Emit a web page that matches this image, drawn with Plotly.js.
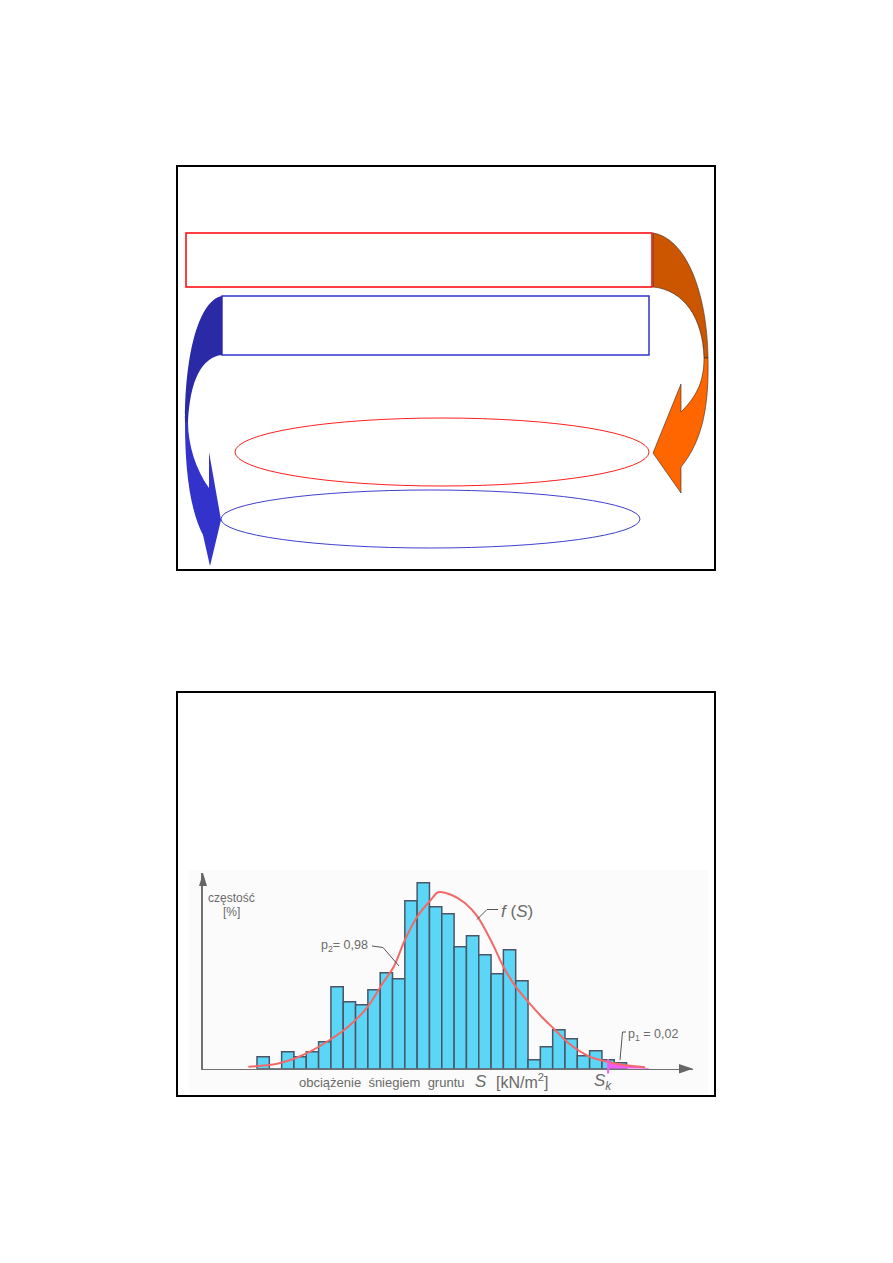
<!DOCTYPE html>
<html><head><meta charset="utf-8">
<script src="https://cdn.plot.ly/plotly-3.0.1.min.js"></script>
<style>html,body{margin:0;padding:0;background:#fff}#chart{width:893px;height:1263px}</style>
</head><body><div id="chart"></div>
<script>
// ---- data (histogram of ground snow load) ----
const binCenters = [0.6,0.7,0.8,0.9,1.0,1.1,1.2,1.3,1.4,1.5,1.6,1.7,1.8,1.9,2.0,2.1,2.2,2.3,2.4,2.5,2.6,2.7,2.8,2.9,3.0,3.1,3.2,3.3,3.4,3.5];
const frequency  = [1.2,0,1.7,1.2,1.7,2.7,8.2,6.7,6.4,7.9,9.6,9.0,16.8,18.6,16.2,15.5,12.2,13.3,11.4,9.5,11.9,8.8,0.9,2.2,3.9,3.0,1.3,1.8,0.9,0.6];
const curveS = [0.48,0.65,0.73,0.86,0.98,1.14,1.29,1.45,1.57,1.66,1.75,1.85,1.96,2.02,2.13,2.24,2.34,2.46,2.55,2.65,2.75,2.86,2.97,3.08,3.25,3.39,3.53,3.70];
const curveF = [0.20,0.37,0.54,1.04,1.70,2.87,4.20,6.20,8.54,10.20,12.87,15.20,16.87,17.64,17.37,16.54,15.20,12.54,10.20,8.20,6.70,5.20,3.87,2.54,1.20,0.70,0.37,0.14];
const tailS = [3.40,3.46,3.53,3.61,3.70,3.73];
const tailF = [0.72,0.52,0.37,0.24,0.12,0.0];
const skValue = 3.40;
const yLabel1 = 'częstość';
const yLabel2 = '[%]';
const xLabelWords = 'obciążenie&nbsp; śniegiem&nbsp; gruntu';
const xLabelSym = 'S';
const xLabelUnit = '[kN/m<sup>2</sup>]';
const p2Label = 'p<sub>2</sub>= 0,98';
const p1Label = 'p<sub>1</sub> = 0,02';
const fLabel = '<i>f</i> (<i>S</i>)';
const skLabel = '<i>S<sub>k</sub></i>';

const FONT = 'Liberation Sans, Arial, sans-serif';
const GRAY = '#6a6a6a';

const traces = [
  {type:'bar', x:binCenters, y:frequency, width:0.1, xaxis:'x2', yaxis:'y2',
   marker:{color:'#5CD6F7', line:{color:'#4A5566', width:1.5}}, hoverinfo:'skip'},
  {type:'scatter', mode:'lines', x:tailS, y:tailF, xaxis:'x2', yaxis:'y2',
   fill:'tozeroy', fillcolor:'#F25CF2', line:{color:'#F25CF2', width:1}, hoverinfo:'skip'},
  {type:'scatter', mode:'lines', x:curveS, y:curveF, xaxis:'x2', yaxis:'y2',
   line:{color:'#F46868', width:2, shape:'spline', smoothing:0.8}, hoverinfo:'skip'}
];

const pg = {xref:'x', yref:'y'};
const shapes = [
  // slide frames
  Object.assign({type:'rect', x0:177, y0:166, x1:715, y1:570, line:{color:'#000', width:2}, layer:'below'}, pg),
  Object.assign({type:'rect', x0:177, y0:692, x1:715, y1:1096, line:{color:'#000', width:2}, layer:'below'}, pg),
  // histogram picture background
  Object.assign({type:'rect', x0:189, y0:870, x1:708, y1:1094, fillcolor:'#FBFBFB', line:{width:0}, layer:'below'}, pg),
  // top diagram
  Object.assign({type:'circle', x0:235, y0:418, x1:649, y1:486, line:{color:'#FF2020', width:1}}, pg),
  Object.assign({type:'circle', x0:221, y0:490, x1:640, y1:548, line:{color:'#4040CC', width:1}}, pg),
  Object.assign({type:'rect', x0:186, y0:233, x1:652, y1:287, line:{color:'#FF0000', width:1.5}}, pg),
  Object.assign({type:'rect', x0:222, y0:296, x1:649, y1:355, line:{color:'#3333CC', width:1.5}}, pg),
  // orange arrow (back part)
  Object.assign({type:'path', path:'M 653,233 C 685,238 707,290 708,358 L 704,358 C 703,318 684,290 653,287 Z',
    fillcolor:'#CC5500', line:{color:'#3a2a20', width:0.6}}, pg),
  // orange arrow (front part with head)
  Object.assign({type:'path', path:'M 708,358 C 709,405 703,440 681,467 L 681,493 L 653,453 L 681,384 L 681,412 C 698,395 704,380 704,358 Z',
    fillcolor:'#FF6600', line:{color:'#3a2a20', width:0.6}}, pg),
  // blue arrow (back part)
  Object.assign({type:'path', path:'M 222,296 C 200,300 185,350 185,422 L 188,422 C 190,380 202,357 222,355 Z',
    fillcolor:'#2A2AA6', line:{width:0}}, pg),
  // blue arrow (front part with head)
  Object.assign({type:'path', path:'M 185,422 C 185,470 190,510 203,535 L 210,566 L 221,520 L 209,452 L 209,488 C 196,470 188,445 188,422 Z',
    fillcolor:'#3333CC', line:{width:0}}, pg),
  // histogram axis arrowheads
  Object.assign({type:'path', path:'M 203,873 L 199,886 L 207,886 Z', fillcolor:'#666', line:{width:0}}, pg),
  Object.assign({type:'path', path:'M 693,1068.7 L 679,1064 L 679,1073.4 Z', fillcolor:'#666', line:{width:0}}, pg),
  // leader lines
  Object.assign({type:'path', path:'M 372,946 L 383,947.5 L 399,966', line:{color:'#555', width:1}}, pg),
  Object.assign({type:'path', path:'M 498,909.5 L 487,909.5 L 477,919.5', line:{color:'#555', width:1}}, pg),
  Object.assign({type:'path', path:'M 626,1032 L 622.5,1032 L 620,1060', line:{color:'#555', width:1}}, pg),
  // S_k marker
  {type:'line', xref:'x2', yref:'paper', x0:skValue, x1:skValue, y0:(1263-1073.5)/1263, y1:(1263-1059)/1263,
   line:{color:'#F25CF2', width:2}}
];

function ann(text, x, y, size, extra){
  return Object.assign({text:text, x:x, y:y, xref:'x', yref:'y', showarrow:false,
    xanchor:'center', yanchor:'middle', font:{family:FONT, size:size, color:GRAY}}, extra||{});
}
const annotations = [
  ann(yLabel1, 231, 898, 12),
  ann(yLabel2, 231, 912, 12),
  ann(p2Label, 344, 946, 12.5),
  ann(fLabel, 517, 911, 17),
  ann(p1Label, 653, 1035, 12.5),
  ann(skLabel, 603, 1082, 17),
  ann(xLabelWords, 382, 1082, 13),
  ann('<i>'+xLabelSym+'</i>', 481, 1081, 17),
  ann(xLabelUnit, 522, 1081, 16)
];

const layout = {
  width:893, height:1263, margin:{l:0,r:0,t:0,b:0},
  paper_bgcolor:'#fff', plot_bgcolor:'rgba(0,0,0,0)', showlegend:false,
  xaxis:{range:[0,893], domain:[0,1], visible:false, fixedrange:true},
  yaxis:{range:[1263,0], domain:[0,1], visible:false, fixedrange:true},
  xaxis2:{range:[0.111,4.089], domain:[202.9/893, 693/893], anchor:'y2',
    showline:true, linecolor:'#707070', linewidth:1.5, showgrid:false, zeroline:false,
    showticklabels:false, ticks:''},
  yaxis2:{range:[0,19.57], domain:[(1263-1068.7)/1263, (1263-873)/1263], anchor:'x2',
    showline:true, linecolor:'#707070', linewidth:1.5, showgrid:false, zeroline:false,
    showticklabels:false, ticks:''},
  shapes:shapes, annotations:annotations
};
Plotly.newPlot('chart', traces, layout, {displayModeBar:false, staticPlot:true});
</script></body></html>
